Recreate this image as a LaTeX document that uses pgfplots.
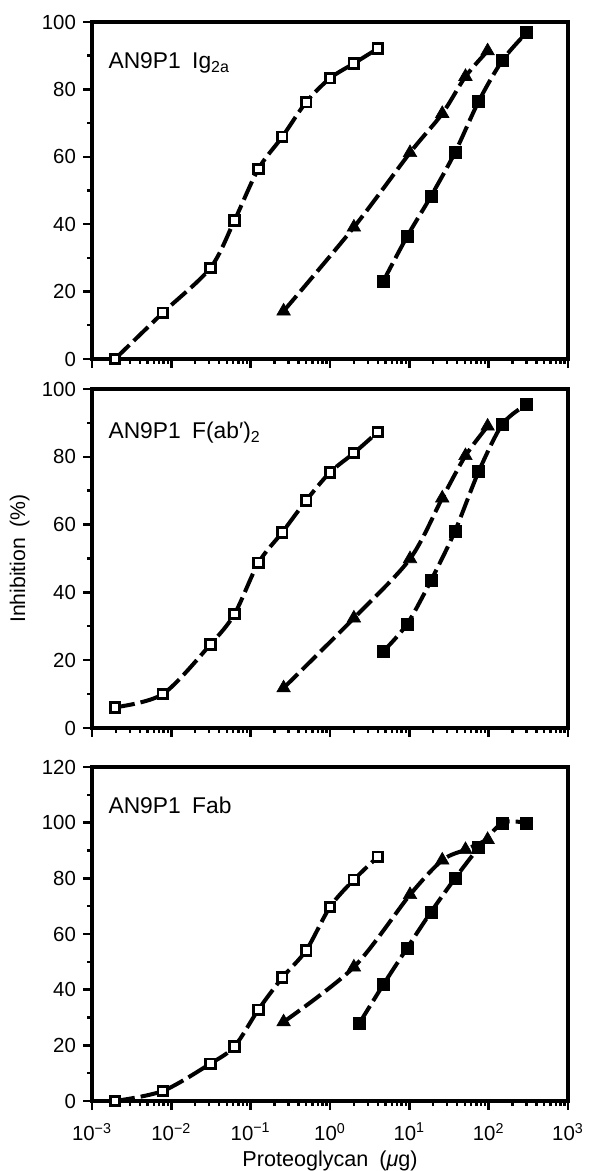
\documentclass[border=0pt]{standalone}
\usepackage{fontspec}
\setmainfont{Liberation Sans}
\usepackage{pgfplots}
\pgfplotsset{compat=1.18}

\pgfplotsset{
  panelstyle/.style={
    scale only axis, width=238pt,
    xmin=1e-3, xmax=1e3, ymin=0,
    xtick={1e-3,1e-2,1e-1,1,1e1,1e2,1e3},
    minor xtick={0.002,0.003,0.004,0.005,0.006,0.007,0.008,0.009,
      0.02,0.03,0.04,0.05,0.06,0.07,0.08,0.09,
      0.2,0.3,0.4,0.5,0.6,0.7,0.8,0.9,
      2,3,4,5,6,7,8,9,20,30,40,50,60,70,80,90,
      200,300,400,500,600,700,800,900},
    minor y tick num=1,
    tick align=outside, tick pos=left,
    axis line style={line width=1.6pt},
    major tick length=4.5pt, minor tick length=2.5pt,
    every tick/.append style={line width=1.2pt, black},
    tick label style={font=\fontsize{10.2}{12}\selectfont},
    /pgf/number format/assume math mode=true,
    clip=false,
  },
}
\tikzset{
  opensq/.style={black, line width=2pt, dash pattern=on 10pt off 3pt, smooth,
    mark=square*, mark size=2.4pt, mark options={solid, fill=white, line width=1.4pt}},
  tri/.style={black, line width=2pt, dash pattern=on 10pt off 3pt, smooth,
    mark=triangle*, mark size=3.9pt, mark options={solid, fill=black, line width=0.3pt}},
  fillsq/.style={black, line width=2pt, dash pattern=on 10pt off 3pt, smooth,
    mark=square*, mark size=3pt, mark options={solid, fill=black, line width=0.3pt}},
}
\newcommand{\panelfont}{\fontsize{11.4}{13}\selectfont}

\begin{document}
\begin{tikzpicture}
\useasboundingbox (-46pt,-35pt) rectangle (249pt,550.5pt);

% top panel: Ig2a
\begin{semilogxaxis}[panelstyle, at={(0,371pt)}, height=168.5pt, ymax=100,
  ytick={0,20,40,60,80,100}, xticklabels={}]
\addplot[opensq] coordinates {(0.00195,0) (0.0078,13.7) (0.031,27.0) (0.0625,41.1)
  (0.125,56.4) (0.25,65.9) (0.5,76.2) (1,83.3) (2,87.7) (4,92.1)};
\addplot[tri] coordinates {(0.26,14.2) (2.0,39.1) (10.2,61.2) (26,72.8) (51,83.8) (97,91.4)};
\addplot[fillsq] coordinates {(4.7,23.1) (9.4,36.4) (18.75,48.3) (37.5,61.2)
  (75,76.5) (150,88.7) (300,96.8)};
\node[anchor=west, inner sep=0pt] at (axis description cs:0.034,0.878)
  {\panelfont AN9P1\hspace{0.5em}Ig\textsubscript{2a}};
\end{semilogxaxis}

% middle panel: F(ab')2
\begin{semilogxaxis}[panelstyle, at={(0,186.5pt)}, height=169.5pt, ymax=100,
  ytick={0,20,40,60,80,100}, xticklabels={},
  ylabel={Inhibition\hspace{0.5em}(\%)},
  ylabel style={at={(axis description cs:-0.152,0.5)}, anchor=center,
    font=\fontsize{10.6}{12}\selectfont}]
\addplot[opensq] coordinates {(0.00195,6.1) (0.0078,10.0) (0.031,24.6) (0.0625,33.6)
  (0.125,48.7) (0.25,57.7) (0.5,67.1) (1,75.4) (2,81.1) (4,87.3)};
\addplot[tri] coordinates {(0.26,11.8) (2.0,32.4) (10.2,49.9) (26,67.8) (51,80.3) (97,89.0)};
\addplot[fillsq] coordinates {(4.7,22.6) (9.4,30.7) (18.75,43.5) (37.5,58.0)
  (75,75.7) (150,89.7) (300,95.4)};
\node[anchor=west, inner sep=0pt] at (axis description cs:0.034,0.87)
  {\panelfont AN9P1\hspace{0.5em}F(ab′)\textsubscript{2}};
\end{semilogxaxis}

% bottom panel: Fab
\begin{semilogxaxis}[panelstyle, at={(0,0)}, height=167pt, ymax=120,
  ytick={0,20,40,60,80,100,120},
  xticklabel style={yshift=-3pt},
  xticklabels={10\textsuperscript{−3},10\textsuperscript{−2},10\textsuperscript{−1},
    10\textsuperscript{0},10\textsuperscript{1},10\textsuperscript{2},10\textsuperscript{3}},
  xlabel={Proteoglycan\hspace{0.5em}(\textit{μ}g)},
  xlabel style={at={(axis description cs:0.5,-0.18)}, anchor=center,
    font=\fontsize{10.8}{12}\selectfont}]
\addplot[opensq] coordinates {(0.00195,0) (0.0078,3.6) (0.031,13.4) (0.0625,19.6)
  (0.125,32.8) (0.25,44.3) (0.5,54.1) (1,69.7) (2,79.5) (4,87.7)};
\addplot[tri] coordinates {(0.26,28.4) (2.0,48.1) (10.2,74.1) (26,86.5) (51,90.3) (97,93.9)};
\addplot[fillsq] coordinates {(2.35,28.0) (4.7,41.8) (9.4,55.0) (18.75,67.9) (37.5,79.9)
  (75,91.0) (150,99.9) (300,99.9)};
\node[anchor=west, inner sep=0pt] at (axis description cs:0.034,0.886)
  {\panelfont AN9P1\hspace{0.5em}Fab};
\end{semilogxaxis}
\end{tikzpicture}
\end{document}
